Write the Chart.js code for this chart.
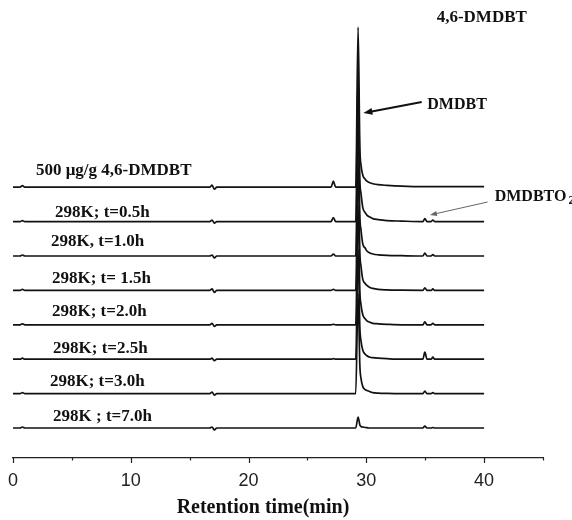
<!DOCTYPE html>
<html>
<head>
<meta charset="utf-8">
<script src="https://cdn.jsdelivr.net/npm/chart.js@4.4.1/dist/chart.umd.min.js"></script>
<style>
  html, body { margin: 0; padding: 0; background: #fff; }
  #wrap { width: 572px; height: 520px; }
</style>
</head>
<body>
<div id="wrap"><canvas id="chromChart" width="572" height="520"></canvas></div>
<script>
// retention time (min) sample points, shared by every trace
const retentionTimes = [0, 0.6, 0.8, 1.0, 16.7, 16.9, 17.1, 17.3, 27.0, 27.2, 27.4,
  29.1, 29.3, 29.45, 29.55, 29.7, 29.9, 30.05, 30.3, 30.55, 31.0, 31.75, 33.0,
  34.8, 34.97, 35.15, 35.5, 35.65, 35.8, 40];

// detector signal above each trace's own baseline
const trace500 = [0, 0, 1.5, 0, 0, 2, -2, 0, 0, 6, 0, 0, 160, 40, 22, 12, 8, 6, 4.5, 3.5, 2.5, 1.8, 1, 0.5, 0.5, 0.5, 0.5, 0.5, 0.5, 0.5];
const trace05h = [0, 0, 1, 0, 0, 1.5, -1.5, 0, 0, 4, 0, 0, 150, 42, 28, 14, 9, 6.5, 4.5, 3, 2, 1, 0.5, 0, 3, 0, 0, 1.5, 0, 0];
const trace10h = [0, 0, 1, 0, 0, 1, -2, 0, 0, 2, 0, 0, 140, 40, 26, 12, 8, 5, 3, 2, 1.2, 0.6, 0.3, 0, 3, 0, 0, 1.5, 0, 0];
const trace15h = [0, 0, 1, 0, 0, 1.5, -2, 0, 0, 1, 0, 0, 130, 38, 24, 11, 7, 5, 3, 2, 1, 0.5, 0.2, 0, 2.5, 0, 0, 1.5, 0, 0];
const trace20h = [0, 0, 1, 0, 0, 1.5, -1.5, 0, 0, 0.5, 0, 0, 120, 34, 20, 10, 6, 4, 2.5, 1.5, 1, 0.5, 0, 0, 3, 0, 0, 1.5, 0, 0];
const trace25h = [0, 0, 1, 0, 0, 1, -1.5, 0, 0, 0.5, 0, 0, 110, 32, 18, 9, 5, 3.5, 2, 1.5, 1, 0.5, 0, 0, 7, 0, 0, 2, 0, 0];
const trace30h = [0, 0, 1, 0, 0, 1.5, -1.5, 0, 0, 0, 0, 0, 100, 28, 15, 7, 4, 3, 2, 1, 0.5, 0.2, 0, 0, 2.5, 0, 0, 1, 0, 0];
const trace70h = [0, 0, 1, 0, 0, 1, -2, 0, 0, 0, 0, 0, 11, 3, 1.5, 1, 0.5, 0.3, 0, 0, 0, 0, 0, 0, 2, 0, 0, 0.5, 0, 0];

const traceLabels = ['500 \u03bcg/g 4,6-DMDBT', '298K; t=0.5h', '298K, t=1.0h', '298K; t= 1.5h',
  '298K; t=2.0h', '298K; t=2.5h', '298K; t=3.0h', '298K ; t=7.0h'];

const xTicks = [0, 5, 10, 15, 20, 25, 30, 35, 40, 45];

// layout: traces stacked top to bottom
const traces = [trace500, trace05h, trace10h, trace15h, trace20h, trace25h, trace30h, trace70h];
const traceGap = 34.4;
const lowestBase = 30;
const baseOf = i => lowestBase + (traces.length - 1 - i) * traceGap;

// label placement: left edge in minutes, text centre height above baseline
const labelPos = [
  { x: 1.95, rise: 17 }, { x: 3.57, rise: 9 }, { x: 3.23, rise: 14 }, { x: 3.31, rise: 12 },
  { x: 3.31, rise: 13 }, { x: 3.4, rise: 11 }, { x: 3.14, rise: 12 }, { x: 3.4, rise: 11 }
];

const serifBold = size => 'bold ' + size + 'px "Liberation Serif", "Times New Roman", serif';

function arrow(ctx, x1, y1, x2, y2, width, color, headLen, headW) {
  const ang = Math.atan2(y2 - y1, x2 - x1);
  ctx.save();
  ctx.strokeStyle = color;
  ctx.fillStyle = color;
  ctx.lineWidth = width;
  ctx.beginPath();
  ctx.moveTo(x1, y1);
  ctx.lineTo(x2 - Math.cos(ang) * headLen * 0.8, y2 - Math.sin(ang) * headLen * 0.8);
  ctx.stroke();
  ctx.beginPath();
  ctx.moveTo(x2, y2);
  ctx.lineTo(x2 - Math.cos(ang) * headLen + Math.sin(ang) * headW / 2,
             y2 - Math.sin(ang) * headLen - Math.cos(ang) * headW / 2);
  ctx.lineTo(x2 - Math.cos(ang) * headLen - Math.sin(ang) * headW / 2,
             y2 - Math.sin(ang) * headLen + Math.cos(ang) * headW / 2);
  ctx.closePath();
  ctx.fill();
  ctx.restore();
}

const annotations = {
  id: 'annotations',
  afterDraw(chart) {
    const { ctx, scales: { x, y }, chartArea } = chart;
    const px = v => x.getPixelForValue(v);
    const py = v => y.getPixelForValue(v);

    // axis ticks pointing down, minor ones shorter
    ctx.save();
    ctx.strokeStyle = '#222';
    ctx.lineWidth = 1.2;
    xTicks.forEach(t => {
      const len = (t % 10 === 0) ? 5 : 2.5;
      const xx = Math.round(px(t)) + 0.5;
      ctx.beginPath();
      ctx.moveTo(xx, chartArea.bottom);
      ctx.lineTo(xx, chartArea.bottom + len);
      ctx.stroke();
    });
    ctx.restore();

    ctx.save();
    ctx.fillStyle = '#111';
    ctx.textBaseline = 'middle';
    ctx.font = serifBold(17);
    ctx.textAlign = 'left';
    traceLabels.forEach((txt, i) => {
      ctx.fillText(txt, px(labelPos[i].x), py(baseOf(i) + labelPos[i].rise));
    });

    ctx.textAlign = 'center';
    ctx.fillText('4,6-DMDBT', px(39.8), py(440));
    ctx.font = serifBold(16);
    ctx.fillText('DMDBT', px(37.7), py(353));

    ctx.textAlign = 'left';
    ctx.font = serifBold(16);
    const sx = px(40.9);
    ctx.fillText('DMDBTO', sx, py(261));
    const w = ctx.measureText('DMDBTO').width;
    ctx.font = serifBold(12);
    ctx.fillText('2', sx + w + 2, py(261) + 4);
    ctx.restore();

    arrow(ctx, px(34.7), py(356), px(29.75), py(345), 2, '#111', 9, 7);
    arrow(ctx, px(40.3), py(256), px(35.4), py(243), 1, '#666', 7, 5);

    ctx.save();
    ctx.fillStyle = '#111';
    ctx.font = serifBold(20);
    ctx.textAlign = 'center';
    ctx.textBaseline = 'middle';
    ctx.fillText('Retention time(min)', 263, 508);
    ctx.restore();
  }
};

const datasets = traces.map((vals, i) => ({
  label: traceLabels[i],
  data: retentionTimes.map((t, k) => ({ x: t, y: baseOf(i) + vals[k] })),
  borderColor: '#111',
  borderWidth: 1.7,
  pointRadius: 0,
  fill: false,
  cubicInterpolationMode: 'monotone'
}));

new Chart(document.getElementById('chromChart').getContext('2d'), {
  type: 'line',
  data: { datasets },
  plugins: [annotations],
  options: {
    responsive: false,
    animation: false,
    layout: { padding: { top: 10, left: 13, right: 29, bottom: 0 } },
    plugins: { legend: { display: false }, tooltip: { enabled: false } },
    scales: {
      x: {
        type: 'linear',
        min: 0,
        max: 45,
        afterBuildTicks: scale => { scale.ticks = xTicks.map(v => ({ value: v })); },
        afterFit: scale => { scale.height = 62; },
        ticks: {
          color: '#222',
          font: { family: '"Liberation Sans", Arial, sans-serif', size: 18 },
          padding: 4,
          maxRotation: 0,
          autoSkip: false,
          callback: v => (v % 10 === 0 && v < 45) ? String(v) : ''
        },
        grid: { drawOnChartArea: false, drawTicks: true, tickLength: 8, tickColor: 'rgba(0,0,0,0)' },
        border: { display: true, color: '#222', width: 1.2 }
      },
      y: {
        display: false,
        min: 0,
        max: 448
      }
    }
  }
});
</script>
</body>
</html>
